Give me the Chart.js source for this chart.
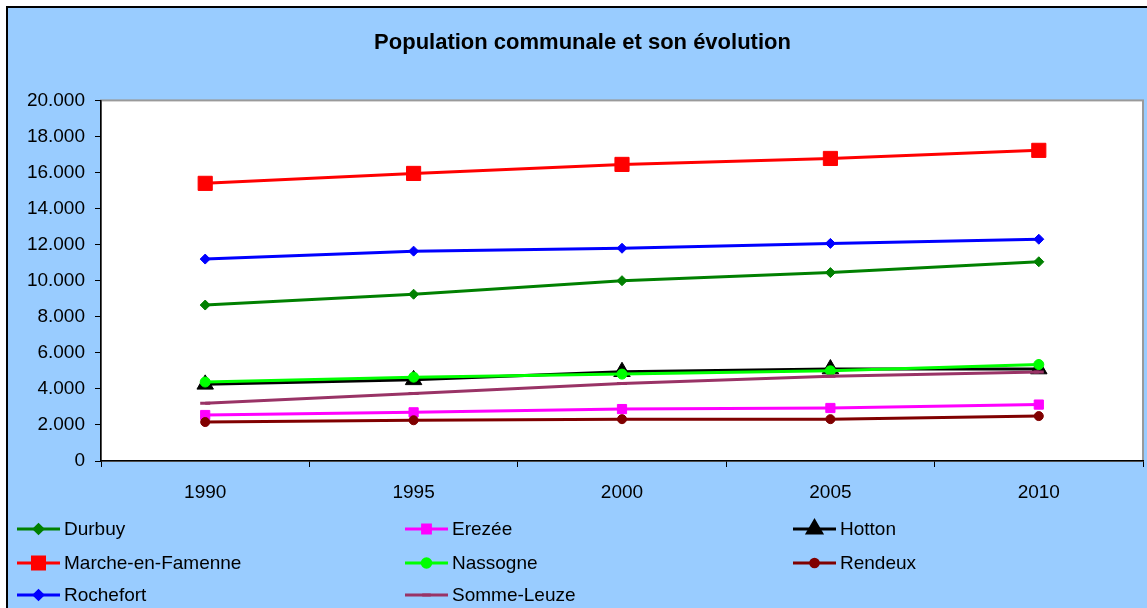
<!DOCTYPE html>
<html>
<head>
<meta charset="utf-8">
<title>Population communale et son évolution</title>
<script src="https://cdn.jsdelivr.net/npm/chart.js@4.4.1/dist/chart.umd.min.js"></script>
<style>
  html, body { margin: 0; padding: 0; background: #fff; overflow: hidden; }
  canvas { display: block; }
</style>
</head>
<body>
<canvas id="myChart" width="1147" height="608" style="width:1147px;height:608px"></canvas>
<script>
const years = ['1990', '1995', '2000', '2005', '2010'];

const durbuy = [8650, 9250, 10000, 10450, 11050];
const erezee = [2550, 2700, 2880, 2940, 3130];
const hotton = [4250, 4500, 4950, 5100, 5100];
const marche = [15400, 15950, 16450, 16780, 17230];
const nassogne = [4380, 4650, 4820, 5000, 5350];
const rendeux = [2160, 2260, 2320, 2320, 2490];
const rochefort = [11200, 11640, 11800, 12070, 12300];
const sommeLeuze = [3200, 3750, 4300, 4700, 4930];

const FONT = 'Arial, "Liberation Sans", sans-serif';

function serie(label, data, color, style, radius) {
    return {
        label: label,
        data: data,
        borderColor: color,
        backgroundColor: color,
        borderWidth: 3,
        tension: 0,
        pointStyle: style,
        pointRadius: radius,
        pointHoverRadius: radius,
        pointBorderWidth: style === 'line' ? 3 : 1,
        pointBackgroundColor: color,
        pointBorderColor: color,
    };
}

const datasets = [
    serie('Durbuy', durbuy, '#008000', 'rectRot', 5),
    serie('Erezée', erezee, '#FF00FF', 'rect', 6.5),
    serie('Hotton', hotton, '#000000', 'triangle', 9.5),
    serie('Marche-en-Famenne', marche, '#FF0000', 'rect', 10),
    serie('Nassogne', nassogne, '#00FF00', 'circle', 5),
    serie('Rendeux', rendeux, '#800000', 'circle', 4.5),
    serie('Rochefort', rochefort, '#0000FF', 'rectRot', 5),
    serie('Somme-Leuze', sommeLeuze, '#993366', 'line', 5),
];
// like Excel: later series drawn on top
datasets.forEach((d, i) => { d.order = datasets.length - i; });

// blue frame + white plot area with grey border
const frame = {
    id: 'frame',
    beforeDraw(chart) {
        const ctx = chart.ctx;
        const a = chart.chartArea;
        ctx.save();
        ctx.fillStyle = '#ffffff';
        ctx.fillRect(0, 0, chart.width, chart.height);
        ctx.fillStyle = '#99CCFF';
        ctx.fillRect(7, 7, chart.width, chart.height);
        ctx.strokeStyle = '#000000';
        ctx.lineWidth = 2;
        ctx.beginPath();
        ctx.moveTo(7, chart.height);
        ctx.lineTo(7, 7);
        ctx.lineTo(chart.width, 7);
        ctx.stroke();
        ctx.fillStyle = '#ffffff';
        ctx.fillRect(a.left, a.top, a.right - a.left, a.bottom - a.top);
        ctx.strokeStyle = '#9a9a9a';
        ctx.lineWidth = 2;
        ctx.strokeRect(a.left, a.top, a.right - a.left, a.bottom - a.top);
        ctx.restore();
    }
};

// legend in three fixed columns, like the original
const gridLegend = {
    id: 'gridLegend',
    afterDraw(chart) {
        const ctx = chart.ctx;
        const cols = [17, 405, 793];
        const rows = [529, 563, 595];
        ctx.save();
        ctx.font = '19px ' + FONT;
        ctx.textBaseline = 'middle';
        chart.data.datasets.forEach((d, i) => {
            const x = cols[i % 3];
            const y = rows[Math.floor(i / 3)];
            ctx.strokeStyle = d.borderColor;
            ctx.lineWidth = 3;
            ctx.beginPath();
            ctx.moveTo(x, y);
            ctx.lineTo(x + 43, y);
            ctx.stroke();
            ctx.fillStyle = d.backgroundColor;
            Chart.helpers.drawPoint(ctx, {
                pointStyle: d.pointStyle,
                radius: d.pointRadius * 0.85,
                rotation: 0,
                borderWidth: d.pointBorderWidth,
            }, x + 21.5, y);
            ctx.fillStyle = '#000';
            ctx.fillText(d.label, x + 47, y + 1);
        });
        ctx.restore();
    }
};

const config = {
    type: 'line',
    data: {
        labels: years,
        datasets: datasets,
    },
    options: {
        responsive: false,
        animation: false,
        devicePixelRatio: 1,
        layout: { autoPadding: false, padding: { left: 22, right: 4, top: 0, bottom: 0 } },
        plugins: {
            legend: { display: false },
            tooltip: { enabled: false },
            title: {
                display: true,
                text: 'Population communale et son évolution',
                color: '#000',
                font: { family: FONT, size: 22, weight: 'bold' },
                padding: { top: 30, bottom: 44 },
            },
        },
        scales: {
            x: {
                offset: true,
                grid: { offset: true, drawOnChartArea: false, color: '#000', tickLength: 6 },
                border: { color: '#000', width: 1.5 },
                ticks: { color: '#000', font: { family: FONT, size: 19 }, padding: 14, maxRotation: 0 },
                afterFit(scale) {
                    scale.height = 608 - 461;
                    scale.paddingLeft = 0;
                    scale.paddingRight = 0;
                },
            },
            y: {
                min: 0,
                max: 20000,
                grid: { drawOnChartArea: false, color: '#000', tickLength: 6 },
                border: { color: '#000', width: 1.5 },
                ticks: {
                    stepSize: 2000,
                    color: '#000',
                    font: { family: FONT, size: 19 },
                    padding: 10,
                    callback: v => v === 0 ? '0' : v.toLocaleString('de-DE'),
                },
                afterFit(scale) { scale.width = 101 - 22; },
            },
        },
    },
    plugins: [frame, gridLegend],
};

const myChart = new Chart(document.getElementById('myChart'), config);
</script>
</body>
</html>
